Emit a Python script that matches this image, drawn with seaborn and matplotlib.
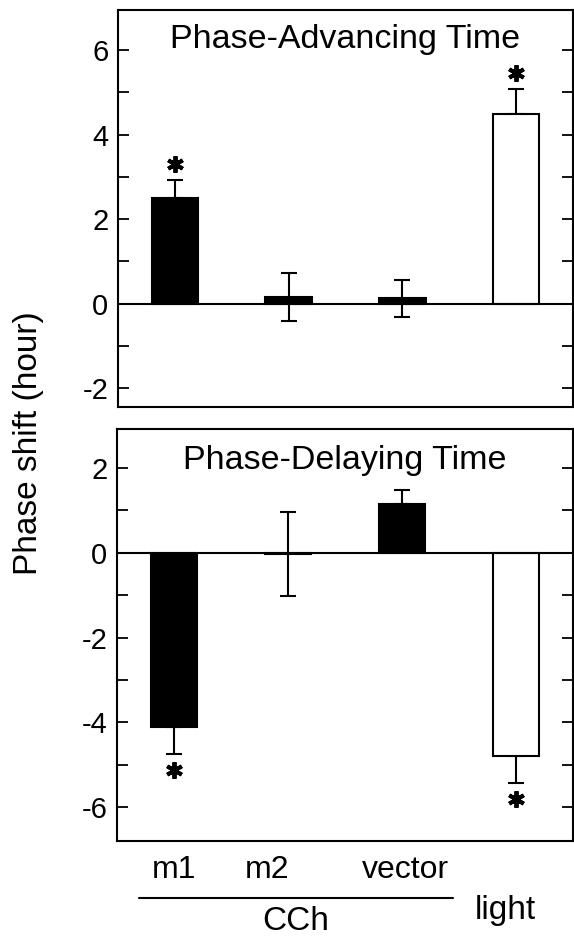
import matplotlib
matplotlib.use("Agg")
import matplotlib.pyplot as plt
import matplotlib.ticker as mticker
from matplotlib.lines import Line2D
import numpy as np
import pandas as pd
import seaborn as sns

# ---------------- data ----------------
categories = ["m1", "m2", "vector", "light"]
bar_colors = ["black", "black", "black", "white"]

advance_mean = [2.51, 0.15, 0.12, 4.49]
advance_sem = [0.41, 0.57, 0.43, 0.60]
advance_sig = [True, False, False, True]

delay_mean = [-4.11, -0.03, 1.14, -4.79]
delay_sem = [0.64, 1.00, 0.34, 0.63]
delay_sig = [True, False, False, True]

panel_titles = ["Phase-Advancing Time", "Phase-Delaying Time"]
y_label = "Phase shift (hour)"
group_label = "CCh"

# ---------------- style ----------------
sns.set_style("ticks")
plt.rcParams["font.family"] = ["Liberation Sans", "DejaVu Sans"]
plt.rcParams["axes.unicode_minus"] = False
plt.rcParams["text.color"] = "black"
plt.rcParams["ytick.color"] = "black"
plt.rcParams["ytick.labelcolor"] = "black"

fig = plt.figure(figsize=(5.74, 9.42), dpi=100)
W, H = 574, 942


def px_axes(l, t, r, b):
    return fig.add_axes([l / W, 1 - b / H, (r - l) / W, (b - t) / H])


ax_top = px_axes(118, 10, 573, 407)
ax_bot = px_axes(117, 429, 573, 841)

panels = [
    (ax_top, advance_mean, advance_sem, advance_sig, (-2.45, 6.95)),
    (ax_bot, delay_mean, delay_sem, delay_sig, (-6.8, 2.92)),
]

for (ax, means, sems, sigs, ylim), title in zip(panels, panel_titles):
    df = pd.DataFrame({"cat": categories, "val": means})
    sns.barplot(data=df, x="cat", y="val", hue="cat", palette=bar_colors,
                order=categories, hue_order=categories, legend=False,
                width=0.41, edgecolor="black", linewidth=1.5, ax=ax,
                errorbar=None, zorder=3)
    xs = np.arange(len(categories))
    m = np.array(means)
    s = np.array(sems)
    one_sided = np.abs(m) > s
    upper = np.where((m >= 0) | ~one_sided, s, 0.0)
    lower = np.where((m < 0) | ~one_sided, s, 0.0)
    ax.errorbar(xs, m, yerr=[lower, upper], fmt="none", ecolor="black",
                elinewidth=1.5, capsize=6, capthick=1.5, zorder=2)
    ax.axhline(0, color="black", lw=1.5, zorder=4)
    for x, v, e, sg in zip(xs, m, s, sigs):
        if sg:
            sign = 1 if v >= 0 else -1
            ax.plot(x, v + sign * (e + 0.38), marker=(6, 2, 0), ms=12,
                    mew=2.8, color="black", zorder=5)
    ax.set_xlim(-0.5, 3.5)
    ax.set_ylim(*ylim)
    ax.set_xlabel("")
    ax.set_ylabel("")
    ax.set_xticks([])
    ax.yaxis.set_major_locator(mticker.MultipleLocator(2))
    ax.yaxis.set_minor_locator(mticker.MultipleLocator(1))
    ax.tick_params(axis="y", which="both", direction="in", length=8,
                   width=1.3, left=True, right=True, labelsize=21, pad=7,
                   colors="black")
    for sp in ax.spines.values():
        sp.set_visible(True)
        sp.set_linewidth(1.5)
        sp.set_color("black")
    ax.text(0.5, 0.904, title, transform=ax.transAxes, ha="center",
            va="baseline", fontsize=24.5, color="black")

# y label
fig.text(29 / W, 1 - 443 / H, y_label, rotation=90, ha="center",
         va="center", fontsize=24, color="black")

# category labels below the bottom panel
label_x = [0.0, 0.82, 2.03, 2.91]
label_y = [878, 878, 878, 919]
label_size = [23, 23, 23, 24]
for name, lx, ly, fs in zip(categories, label_x, label_y, label_size):
    xf = (117 + (lx + 0.5) * 114) / W
    fig.text(xf, 1 - ly / H, name, ha="center", va="baseline", fontsize=fs,
             color="black")

fig.add_artist(Line2D([139 / W, 453 / W], [1 - 898 / H, 1 - 898 / H],
                      color="black", lw=1.5))
fig.text(296 / W, 1 - 930 / H, group_label, ha="center", va="baseline",
         fontsize=24, color="black")

fig.savefig("out.png", dpi=100)
